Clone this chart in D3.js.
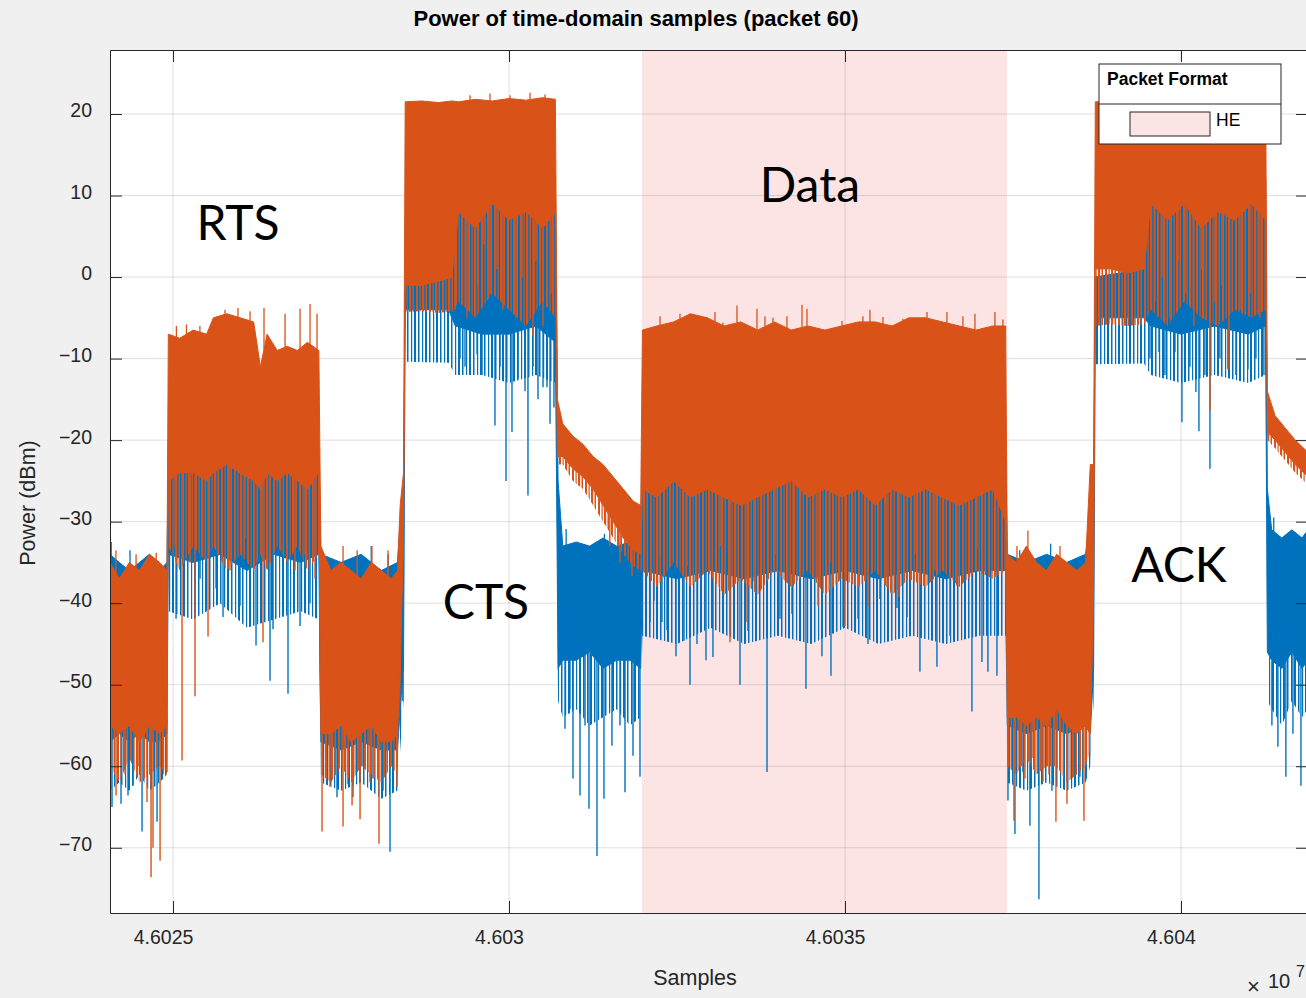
<!DOCTYPE html>
<html>
<head>
<meta charset="utf-8">
<script src="https://cdn.jsdelivr.net/npm/d3@7"></script>
<style>
body { margin: 0; background: #f0f0f0; }
svg { display: block; font-family: "Liberation Sans", Arial, sans-serif; }
</style>
</head>
<body>
<div id="main"></div>
<script>
const width = 1306;
const height = 998;

// axis ticks
const xTicks = [46025000, 46030000, 46035000, 46040000];
const xTickLabels = ['4.6025', '4.603', '4.6035', '4.604'];
const yTicks = [20, 10, 0, -10, -20, -30, -40, -50, -60, -70];

// shaded HE packet (data frame)
const heRegion = [46031979, 46037411];

// frame labels: [text, sample, dBm]
const frameLabels = [
    ['RTS', 46025967, 4.5],
    ['CTS', 46029657, -42],
    ['Data', 46034479, 9.2],
    ['ACK', 46039969, -37.4]
];

// envelopes: [sample, upper dBm, dense lower dBm, sparse reach dBm]
const blueEnvelope = [
    [46024062, -34, -57, -63], [46024200, -35, -56, -62], [46024350, -36, -57, -63], [46024500, -35, -56, -61],
    [46024650, -34, -57, -63], [46024800, -36, -57, -62], [46024910, -35, -56, -61],
    [46024930, -20, -34, -41], [46025300, -21, -35, -42], [46025700, -19, -34, -40], [46026100, -20, -36, -43],
    [46026500, -21, -34, -42], [46026900, -20, -35, -41], [46027170, -21, -34, -42],
    [46027200, -34, -57, -62], [46027500, -35, -58, -63], [46027800, -34, -57, -62], [46028100, -36, -58, -64],
    [46028340, -35, -58, -63], [46028380, -30, -53, -58], [46028430, -27, -48, -52],
    [46028455, 0, -4, -10.4], [46029100, 0, -4, -10.5], [46029200, 12, -6, -12], [46029600, 11, -7, -12],
    [46030000, 12, -7, -13], [46030400, 11, -6, -12], [46030690, 12, -8, -13],
    [46030730, -25, -48, -52], [46030800, -33, -47, -54], [46031000, -32.5, -47, -53], [46031200, -33, -46, -55],
    [46031400, -32, -48, -54], [46031600, -33, -47, -53], [46031800, -32.5, -47, -55], [46031960, -33, -48, -54],
    [46031985, -19, -36, -44], [46032500, -20, -37, -45], [46033000, -19, -36, -43], [46033500, -20, -37, -45],
    [46034000, -19, -36, -44], [46034500, -20, -37, -45], [46035000, -19, -36, -43], [46035500, -20, -37, -45],
    [46036000, -19, -36, -44], [46036500, -20, -37, -45], [46037000, -19, -36, -44], [46037390, -20, -36, -44],
    [46037415, -34, -55, -62], [46037700, -35, -56, -63], [46038000, -34, -55, -62], [46038300, -35, -56, -63],
    [46038580, -34, -55, -62], [46038650, -30, -56, -60], [46038700, -25, -48, -52],
    [46038725, 0, -5, -10.7], [46039450, 1, -5, -10.6], [46039550, 12, -6, -12], [46040000, 11, -7, -13],
    [46040500, 12, -6, -12], [46041000, 11, -7, -13], [46041260, 12, -6, -12],
    [46041285, -26, -46, -52], [46041350, -31, -47, -53], [46041500, -32, -48, -55], [46041650, -31, -46, -52],
    [46041800, -32, -48, -54], [46041890, -31, -47, -53]
];

const orangeEnvelope = [
    [46024062, -35, -55, -60], [46024200, -37, -56, -62], [46024350, -35, -55, -59], [46024500, -36, -57, -62],
    [46024650, -34, -55, -61], [46024800, -35, -56, -60], [46024910, -36, -55, -61],
    [46024930, -7, -25, -33], [46025100, -7.5, -24, -36], [46025300, -6.5, -24, -33], [46025500, -7, -25, -35],
    [46025600, -5, -24, -33], [46025800, -4.5, -23, -36], [46026000, -5, -24, -34], [46026200, -5.5, -25, -36],
    [46026300, -11, -26, -34], [46026400, -7, -24, -36], [46026550, -9, -25, -33], [46026700, -8.5, -24, -35],
    [46026850, -9, -25, -33], [46027000, -8, -26, -36], [46027170, -9, -24, -34],
    [46027200, -33, -56, -61], [46027350, -36, -56, -62], [46027500, -35, -55, -60], [46027650, -36, -57, -62],
    [46027800, -37, -56, -60], [46027950, -35, -55, -61], [46028100, -36, -57, -62], [46028250, -37, -57, -60],
    [46028340, -36, -56, -61], [46028380, -28, -48, -52], [46028430, -24, -32, -34],
    [46028455, 21.5, -1, -4.3], [46028700, 21.6, -1, -4.2], [46028950, 21.4, -0.5, -4.4], [46029150, 21.6, 0, -4.2],
    [46029250, 21.5, 8, -3], [46029500, 21.8, 6, -5], [46029750, 21.6, 9, -2], [46030000, 21.9, 7, -4],
    [46030250, 21.7, 8, -6], [46030500, 22.0, 6, -3], [46030690, 21.8, 8, -5],
    [46030720, -15, -22, -23], [46030800, -18, -22, -23], [46030950, -19.5, -23.5, -25], [46031100, -20.5, -24.5, -26],
    [46031250, -22, -26, -28], [46031400, -23, -28, -30], [46031550, -24.5, -30, -32], [46031700, -26, -32, -34],
    [46031850, -27.5, -33.5, -35.5], [46031960, -28, -34, -36],
    [46031985, -6.5, -26, -36], [46032200, -6, -27, -38], [46032450, -5.5, -25, -35], [46032700, -4.5, -27, -38],
    [46032950, -5, -26, -36], [46033200, -6, -27, -39], [46033450, -5.5, -28, -37], [46033700, -6.5, -27, -39],
    [46033950, -5.5, -26, -36], [46034200, -6.5, -25, -38], [46034450, -6, -27, -36], [46034700, -6.5, -26, -39],
    [46034950, -6, -27, -37], [46035200, -5.5, -26, -38], [46035450, -5.5, -28, -36], [46035700, -6, -26, -39],
    [46035950, -5, -27, -37], [46036200, -5, -26, -38], [46036450, -5.5, -27, -36], [46036700, -6, -28, -38],
    [46036950, -6.5, -27, -36], [46037200, -6, -26, -37], [46037390, -6, -30, -36],
    [46037415, -34, -54, -60], [46037550, -35, -54, -61], [46037700, -33, -55, -59], [46037850, -35, -54, -61],
    [46038000, -36, -55, -60], [46038150, -34, -53, -60], [46038300, -35, -55, -62], [46038450, -36, -56, -61],
    [46038580, -35, -55, -60], [46038650, -23, -56, -58], [46038700, -23, -38, -40],
    [46038725, 21.5, 1, -6], [46038950, 21.5, 1, -5.8], [46039200, 21.5, 0.5, -6], [46039450, 21.6, 1, -5.8],
    [46039550, 21.5, 9, -4], [46039800, 21.7, 7, -6], [46040050, 21.6, 9, -3], [46040300, 21.8, 6, -5],
    [46040550, 21.6, 8, -6], [46040800, 21.7, 7, -4], [46041050, 21.6, 9, -5], [46041260, 21.5, 7, -4],
    [46041285, -14, -19, -20], [46041400, -17, -20, -21], [46041550, -18.5, -21.5, -22.5], [46041700, -20, -23, -24],
    [46041890, -21.5, -24.5, -25.5]
];

// downward spikes: [sample, lowest dBm]
const blueDips = [
    [46024092, -65], [46024226, -64.6], [46024330, -63.6], [46024405, -62.4], [46024539, -68],
    [46024762, -66.8], [46024851, -61],
    [46025045, -41.9], [46025402, -37], [46025640, -38.2], [46025744, -41.7], [46025997, -40.3],
    [46026146, -41.9], [46026235, -45.2], [46026443, -49.5], [46026488, -43.2], [46026711, -51.1],
    [46026890, -42.8], [46027039, -40],
    [46027277, -60], [46027440, -63.8], [46027604, -62.2], [46027678, -63.8], [46027812, -60],
    [46027976, -61.5], [46028125, -63], [46028229, -70.5], [46028274, -63.1], [46028420, -52],
    [46029271, -10], [46029345, -11], [46029524, -9.5], [46029598, -12], [46029791, -18.2],
    [46029866, -11], [46029955, -25], [46030044, -19], [46030134, -12.5], [46030238, -14],
    [46030282, -26.8], [46030357, -11], [46030431, -15], [46030506, -13.5], [46030565, -13.5],
    [46030610, -18], [46030669, -16],
    [46030833, -55.4], [46030907, -53], [46030952, -61.5], [46031056, -63.6], [46031131, -55],
    [46031190, -65.2], [46031309, -71], [46031413, -64], [46031532, -57.5], [46031651, -55],
    [46031726, -63.2], [46031845, -58.7], [46031949, -61.3],
    [46032098, -42.3], [46032157, -39.7], [46032276, -42.3], [46032351, -43.3], [46032485, -46.5],
    [46032604, -44.6], [46032693, -50], [46032797, -45], [46032931, -47], [46033035, -46.6],
    [46033288, -44], [46033437, -50], [46033556, -43.4], [46033839, -60.7], [46034032, -41.9],
    [46034211, -41.3], [46034419, -50.5], [46034657, -46.5], [46034791, -48.9], [46034970, -42.9],
    [46035193, -41.9], [46035342, -45], [46035520, -39.5], [46035773, -40.6], [46035922, -41.7],
    [46036115, -48.4], [46036368, -47.8], [46036562, -44], [46036889, -53.3], [46037038, -47.2],
    [46037127, -48.4], [46037261, -48.9],
    [46037425, -64.2], [46037529, -68.3], [46037648, -60.7], [46037752, -67.3], [46037886, -76.3],
    [46038080, -63], [46038303, -56.6], [46038422, -60], [46038496, -61.3],
    [46039538, -10], [46039672, -9.2], [46039761, -12], [46039910, -9.2], [46040014, -17.8],
    [46040133, -11], [46040222, -14.1], [46040267, -18.9], [46040356, -12], [46040431, -23.5],
    [46040579, -10], [46040698, -11.3], [46040817, -12], [46040996, -11.3], [46041115, -10],
    [46041234, -12],
    [46041353, -55], [46041442, -57.6], [46041561, -61.3], [46041666, -56], [46041785, -62.4]
];

const orangeDips = [
    [46024152, -63.6], [46024286, -61], [46024479, -60], [46024613, -64.4], [46024673, -73.6],
    [46024702, -70], [46024807, -71.6], [46024911, -60.7],
    [46025030, -33], [46025134, -59.3], [46025253, -35], [46025327, -51.4], [46025521, -44.1],
    [46025670, -34], [46025848, -36], [46026071, -32], [46026339, -44.8], [46026443, -35],
    [46026592, -33], [46026815, -36], [46026964, -34], [46027113, -37],
    [46027217, -68], [46027336, -62.5], [46027530, -67.4], [46027664, -64.8], [46027783, -66.5],
    [46027931, -62], [46028065, -69.5], [46028333, -62.5],
    [46029196, -4], [46029300, 2], [46029375, -5], [46029538, -1], [46029628, 4], [46029717, -2],
    [46029821, 1], [46029910, -4], [46030104, -5], [46030193, 0], [46030357, -7.2], [46030401, 2],
    [46030506, -6], [46030625, -2],
    [46031500, -33], [46031651, -35], [46031830, -36.7],
    [46032247, -34], [46032648, -35.4], [46032886, -35], [46033139, -33], [46033288, -44.8],
    [46033541, -42.3], [46033645, -37.3], [46033958, -34], [46034226, -37.9], [46034598, -40.3],
    [46034776, -35], [46035000, -42.8], [46035342, -40.3], [46035624, -38], [46035803, -39.2],
    [46036041, -34], [46036339, -36], [46036666, -37.9], [46036964, -33.3], [46037231, -35],
    [46037514, -66.7], [46037603, -60], [46037678, -61.5], [46037797, -59], [46037946, -61.9],
    [46038035, -61], [46038139, -66.8], [46038303, -64.6], [46038556, -66.7],
    [46039612, -3], [46039716, 0], [46039835, -5], [46039954, 2], [46040073, -2], [46040192, -6],
    [46040312, 1], [46040431, -16.4], [46040505, -3], [46040609, -1], [46040713, -11.3],
    [46040877, -4], [46041026, -2], [46041175, -5]
];

// upward spikes: [sample, highest dBm]
const bluePeaks = [
    [46024080, -32.5], [46024360, -33.5], [46027950, -33], [46028200, -34], [46030850, -30.9],
    [46031420, -31.5], [46037600, -33.5], [46038060, -32.7], [46041380, -29.5]
];

const orangePeaks = [
    [46024150, -33.5], [46024450, -34], [46024750, -33.8],
    [46025050, -6], [46025200, -5.8], [46025400, -6], [46025774, -4], [46025967, -3.8],
    [46026146, -4.2], [46026354, -3.8], [46026667, -4.5], [46026890, -3.9], [46027039, -3.3],
    [46027143, -4.5],
    [46027530, -33], [46027740, -33.5], [46027960, -33], [46028200, -33.5],
    [46029420, 22.3], [46029717, 22.5], [46030014, 22.3], [46030312, 22.6], [46030535, 22.4],
    [46032247, -4.8], [46032544, -4.5], [46032693, -5], [46032946, -4.9], [46033065, -4.3],
    [46033184, -5.6], [46033392, -3.5], [46033690, -3.9], [46033809, -4.8], [46033928, -5],
    [46034136, -4.8], [46034360, -3.4], [46034434, -3.9], [46034955, -5.4], [46035267, -4.8],
    [46035371, -4], [46035565, -4.9], [46035862, -5.1], [46036220, -4.3], [46036517, -4.3],
    [46036755, -4.8], [46036934, -4.5], [46037231, -4.3], [46037350, -5.2],
    [46037559, -33], [46037722, -31.1], [46038199, -33]
];

const blue = '#0072bd';
const orange = '#d95319';
const pink = '#fde4e4';
const ink = '#262626';

const plotLeft = 110, plotRight = 1308, plotTop = 50, plotBottom = 913;

const x = d3.scaleLinear().domain([46024062, 46041890]).range([plotLeft, plotRight]);
const y = d3.scaleLinear().domain([-78, 27.85]).range([plotBottom, plotTop]);

const svg = d3.select('#main')
    .append('svg')
    .attr('width', width)
    .attr('height', height);

const defs = svg.append('defs');
defs.append('clipPath').attr('id', 'clip')
    .append('rect')
    .attr('x', plotLeft).attr('y', plotTop)
    .attr('width', plotRight - plotLeft).attr('height', plotBottom - plotTop);

// thin vertical strokes used for the sparse spiky fringe under each band
function stripes(id, color, w, bars) {
    const p = defs.append('pattern').attr('id', id)
        .attr('patternUnits', 'userSpaceOnUse')
        .attr('width', w).attr('height', 8);
    bars.forEach(b => p.append('rect').attr('x', b[0]).attr('width', b[1]).attr('height', 8).attr('fill', color));
}
stripes('fringe-orange', orange, 13, [[0, 2], [3.5, 1.2], [6, 2.2], [9.5, 1.5]]);
stripes('fringe-blue', blue, 11, [[0, 1.5], [4, 1.2], [7, 2]]);

svg.append('rect').attr('width', width).attr('height', height).attr('fill', '#f0f0f0');
svg.append('rect')
    .attr('x', plotLeft).attr('y', plotTop)
    .attr('width', plotRight - plotLeft).attr('height', plotBottom - plotTop)
    .attr('fill', '#fff');

const g = svg.append('g').attr('clip-path', 'url(#clip)');

g.append('rect')
    .attr('x', x(heRegion[0])).attr('y', plotTop)
    .attr('width', x(heRegion[1]) - x(heRegion[0]))
    .attr('height', plotBottom - plotTop)
    .attr('fill', pink);

// grid
g.selectAll('.gx').data(xTicks).enter().append('line')
    .attr('x1', d => x(d)).attr('x2', d => x(d))
    .attr('y1', plotTop).attr('y2', plotBottom)
    .attr('stroke', ink).attr('stroke-opacity', 0.15);
g.selectAll('.gy').data(yTicks).enter().append('line')
    .attr('x1', plotLeft).attr('x2', plotRight)
    .attr('y1', d => y(d)).attr('y2', d => y(d))
    .attr('stroke', ink).attr('stroke-opacity', 0.15);

const bis = d3.bisector(d => d[0]).left;
function envAt(env, s, k) {
    const i = Math.max(1, Math.min(env.length - 1, bis(env, s)));
    const a = env[i - 1], b = env[i];
    const t = (s - a[0]) / (b[0] - a[0]);
    return a[k] + (b[k] - a[k]) * Math.max(0, Math.min(1, t));
}

function drawSeries(env, dips, peaks, color, fringeId) {
    const fringe = d3.area()
        .x(d => x(d[0]))
        .y0(d => y(d[3]))
        .y1(d => y(d[2]));
    g.append('path')
        .datum(env)
        .attr('d', fringe)
        .attr('fill', `url(#${fringeId})`);
    const area = d3.area()
        .x(d => x(d[0]))
        .y0(d => y(d[2]))
        .y1(d => y(d[1]));
    g.append('path')
        .datum(env)
        .attr('d', area)
        .attr('fill', color)
        .attr('stroke', color)
        .attr('stroke-width', 1);
    g.selectAll(null).data(dips).enter().append('line')
        .attr('x1', d => x(d[0])).attr('x2', d => x(d[0]))
        .attr('y1', d => y(envAt(env, d[0], 2))).attr('y2', d => y(d[1]))
        .attr('stroke', color).attr('stroke-width', 1.4);
    g.selectAll(null).data(peaks).enter().append('line')
        .attr('x1', d => x(d[0])).attr('x2', d => x(d[0]))
        .attr('y1', d => y(envAt(env, d[0], 1))).attr('y2', d => y(d[1]))
        .attr('stroke', color).attr('stroke-width', 1.3);
}

drawSeries(blueEnvelope, blueDips, bluePeaks, blue, 'fringe-blue');
drawSeries(orangeEnvelope, orangeDips, orangePeaks, orange, 'fringe-orange');

// axes
function styleAxis(sel) {
    sel.selectAll('path').attr('stroke', ink);
    sel.selectAll('line').attr('stroke', ink);
    sel.selectAll('text').attr('fill', ink).style('font-size', '19.5px');
}

svg.append('g')
    .attr('transform', `translate(${plotLeft},0)`)
    .call(d3.axisLeft(y).tickValues(yTicks).tickSizeInner(-12).tickSizeOuter(0).tickPadding(18))
    .call(styleAxis)
    .selectAll('text').attr('dy', '0.15em');
svg.append('g')
    .attr('transform', `translate(0,${plotBottom})`)
    .call(d3.axisBottom(x).tickValues(xTicks).tickFormat((d, i) => xTickLabels[i])
        .tickSizeInner(-12).tickSizeOuter(0).tickPadding(17))
    .call(styleAxis)
    .selectAll('text').attr('dx', -10);
svg.append('g')
    .attr('transform', `translate(0,${plotTop})`)
    .call(d3.axisTop(x).tickValues(xTicks).tickFormat('').tickSizeInner(-12).tickSizeOuter(0))
    .call(styleAxis);
svg.append('g')
    .attr('transform', `translate(${plotRight},0)`)
    .call(d3.axisRight(y).tickValues(yTicks).tickFormat('').tickSizeInner(-12).tickSizeOuter(0))
    .call(styleAxis);

// titles
svg.append('text')
    .attr('x', 636).attr('y', 26)
    .attr('text-anchor', 'middle')
    .style('font-size', '22px').style('font-weight', 'bold')
    .attr('fill', '#000')
    .text('Power of time-domain samples (packet 60)');

svg.append('text')
    .attr('x', 695).attr('y', 985)
    .attr('text-anchor', 'middle')
    .style('font-size', '21.5px')
    .attr('fill', ink)
    .text('Samples');

svg.append('text')
    .attr('transform', 'translate(35,503) rotate(-90)')
    .attr('text-anchor', 'middle')
    .style('font-size', '21.5px')
    .attr('fill', ink)
    .text('Power (dBm)');

const expo = svg.append('text').attr('fill', ink).style('font-size', '20px');
expo.append('tspan').attr('x', 1247).attr('y', 994).style('font-size', '22px').style('font-weight', '300').text('×');
expo.append('tspan').attr('x', 1268).attr('y', 988).text('10');
expo.append('tspan').attr('x', 1296).attr('y', 977).style('font-size', '16px').text('7');

// frame annotations
svg.selectAll('.frame').data(frameLabels).enter().append('text')
    .attr('x', d => x(d[1])).attr('y', d => y(d[2]))
    .attr('text-anchor', 'middle')
    .style('font-family', 'Lato, sans-serif')
    .style('font-size', '48px')
    .attr('fill', '#000')
    .text(d => d[0]);

// legend
const leg = svg.append('g').attr('transform', 'translate(1099,64)');
leg.append('rect').attr('width', 182).attr('height', 80)
    .attr('fill', '#fff').attr('stroke', ink).attr('stroke-width', 1);
leg.append('line').attr('x1', 0).attr('x2', 182).attr('y1', 40).attr('y2', 40)
    .attr('stroke', ink);
leg.append('text').attr('x', 8).attr('y', 21)
    .style('font-size', '17.5px').style('font-weight', 'bold').attr('fill', '#000')
    .text('Packet Format');
leg.append('rect').attr('x', 31).attr('y', 48).attr('width', 80).attr('height', 24)
    .attr('fill', pink).attr('stroke', ink);
leg.append('text').attr('x', 117).attr('y', 62)
    .style('font-size', '17.5px').attr('fill', '#000')
    .text('HE');
</script>
</body>
</html>
